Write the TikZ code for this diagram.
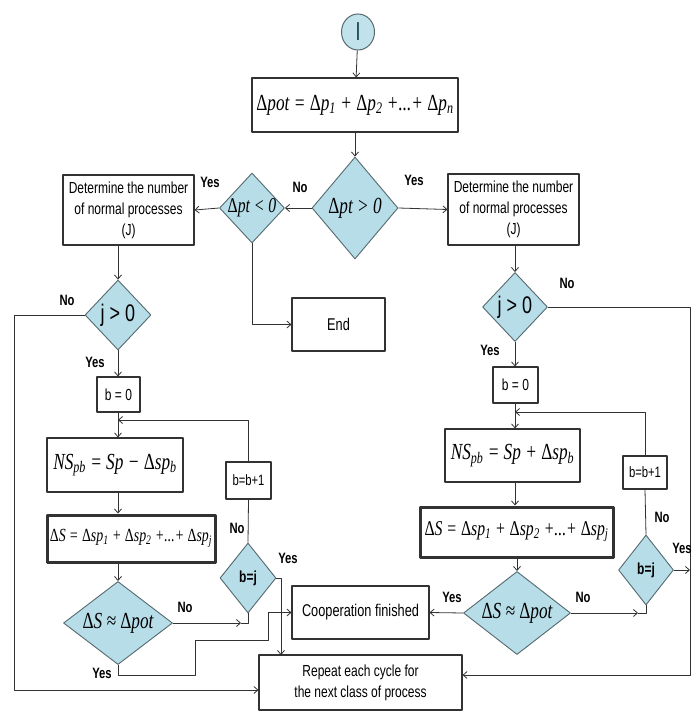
\documentclass[tikz,border=0pt]{standalone}
\usepackage{fontspec}
\setmainfont{Liberation Sans}[FakeStretch=0.75]
\newfontfamily\eqfont{Liberation Serif}[FakeStretch=0.75]
\usetikzlibrary{shapes.geometric,arrows.meta}
\definecolor{decfill}{RGB}{183,221,232}
\definecolor{decline}{RGB}{85,105,110}
\definecolor{flowline}{RGB}{50,50,50}
\definecolor{startmark}{RGB}{31,73,85}
\newcommand{\eqtext}[2]{{\eqfont\itshape\fontsize{#1}{#1}\selectfont #2}}
\newcommand{\dlt}{{\upshape Δ}}
\begin{document}
\begin{tikzpicture}[x=1pt,y=-1pt,line join=round,>={Straight Barb[length=4pt,width=7pt]}]
	\tikzset{box/.style={draw=flowline,line width=1.1pt,rectangle,inner sep=1pt,align=center,font=\fontsize{16}{21}\selectfont},
		sumbox/.style={box,line width=3pt,postaction={draw=flowline,line width=3pt}},
		dec/.style={draw=decline,fill=decfill,line width=0.9pt,diamond,inner sep=-2pt},
		lab/.style={font=\fontsize{15}{18}\selectfont\bfseries,inner sep=0pt},
		flow/.style={draw=flowline,line width=0.8pt}}
	\useasboundingbox (0,0) rectangle (696,711);
	% start and first test
	\node[ellipse,draw=decline,fill=decfill!85!white,line width=1pt,minimum width=33pt,minimum height=36pt,inner sep=0pt,font=\fontsize{26}{26}\selectfont] (start) at (358,32) {\color{startmark}I};
	\node[box,minimum width=206pt,minimum height=54pt] (pot) at (355,105) {\eqtext{23}{\dlt pot = \dlt p\textsubscript{1} + \dlt p\textsubscript{2} +...+ \dlt p\textsubscript{n}}};
	\node[dec,minimum width=86pt,minimum height=102pt] (dpos) at (355,208) {\eqtext{23}{\dlt pt > 0}};
	\node[dec,minimum width=65pt,minimum height=70pt,inner sep=-8pt] (dneg) at (252,208) {\eqtext{21}{\dlt pt < 0}};
	\node[box,minimum width=131pt,minimum height=70pt] (detL) at (128.5,210) {Determine the number\\of normal processes\\(J)};
	\node[box,minimum width=131pt,minimum height=71pt] (detR) at (513.5,209.5) {Determine the number\\of normal processes\\(J)};
	\node[box,minimum width=93pt,minimum height=53pt,font=\fontsize{17}{20}\selectfont] (end) at (338.5,324.5) {End};
	% left branch
	\node[dec,minimum width=66pt,minimum height=70pt,font=\fontsize{24}{26}\selectfont] (jL) at (118,315) {j > 0};
	\node[box,minimum width=43pt,minimum height=35pt] (bzL) at (118.5,394.5) {b = 0};
	\node[box,minimum width=136pt,minimum height=54pt] (nsL) at (115,465) {\eqtext{23}{NS\textsubscript{pb} = Sp − \dlt sp\textsubscript{b}}};
	\node[box,minimum width=45pt,minimum height=37pt,font=\fontsize{15}{18}\selectfont] (incL) at (248.5,480.5) {b=b+1};
	\node[sumbox,minimum width=168pt,minimum height=47pt] (sumL) at (131,538.5) {\eqtext{18.5}{\dlt S = \dlt sp\textsubscript{1} + \dlt sp\textsubscript{2} +...+ \dlt sp\textsubscript{j}}};
	\node[dec,minimum width=109pt,minimum height=71pt] (simL) at (118,623) {\eqtext{23}{\dlt S ≈ \dlt pot}};
	\node[dec,minimum width=56pt,minimum height=70pt,font=\fontsize{16}{18}\selectfont\bfseries] (bjL) at (248,578) {b=j};
	% right branch
	\node[dec,minimum width=65pt,minimum height=69pt,font=\fontsize{24}{26}\selectfont] (jR) at (515,307) {j > 0};
	\node[box,minimum width=45pt,minimum height=36pt] (bzR) at (515.5,385) {b = 0};
	\node[box,minimum width=135pt,minimum height=53pt] (nsR) at (512.5,455.5) {\eqtext{23}{NS\textsubscript{pb} = Sp + \dlt sp\textsubscript{b}}};
	\node[box,minimum width=44pt,minimum height=33pt,font=\fontsize{15}{18}\selectfont] (incR) at (645,472.5) {b=b+1};
	\node[sumbox,minimum width=193pt,minimum height=50pt] (sumR) at (516.5,532) {\eqtext{21}{\dlt S = \dlt sp\textsubscript{1} + \dlt sp\textsubscript{2} +...+ \dlt sp\textsubscript{j}}};
	\node[dec,minimum width=107pt,minimum height=71pt] (simR) at (517,613) {\eqtext{23}{\dlt S ≈ \dlt pot}};
	\node[dec,minimum width=55pt,minimum height=70pt,font=\fontsize{16}{18}\selectfont\bfseries] (bjR) at (646,570) {b=j};
	% common ends
	\node[box,minimum width=137pt,minimum height=53pt,font=\fontsize{17}{20}\selectfont] (coop) at (360.5,612.5) {Cooperation finished};
	\node[box,minimum width=203pt,minimum height=55pt] (rep) at (360.5,682.5) {Repeat each cycle for\\the next class of process};
	\coordinate (cL) at (14,690);
	\coordinate (cR) at (690,675);
	\coordinate (loopL) at (118,420);
	\coordinate (loopR) at (515,412);
	\coordinate (noL) at (241,623);
	\coordinate (noR) at (638,613);
	\coordinate (ybL) at (281,655);
	% connectors
	\draw[flow,->] (start) -- (pot);
	\draw[flow,->] (pot) -- (dpos);
	\draw[flow,->] (dpos.west) -- (dneg.east);
	\draw[flow,->] (dneg.west) -- (detL.east);
	\draw[flow,->] (dpos.east) -- (detR.west);
	\draw[flow,->] (dneg.south) |- (end.west);
	\draw[flow,->] (detL.south -| jL.north) -- (jL.north);
	\draw[flow,->] (detR.south -| jR.north) -- (jR.north);
	\draw[flow,->] (jL.west) -| (cL) -- (cL -| rep.west);
	\draw[flow,->] (jR.east) -| (cR) -- (cR -| rep.east);
	\draw[flow,->] (jL.south) -- (jL.south |- bzL.north);
	\draw[flow,->] (bzL.south -| loopL) -- (loopL |- nsL.north);
	\draw[flow,->] (incL.north) |- (loopL);
	\draw[flow,->] (nsL.south -| loopL) -- (loopL |- sumL.north);
	\draw[flow,->] (sumL.south -| simL.north) -- (simL.north);
	\draw[flow,->] (simL.east) -- (noL);
	\draw[flow] (bjL.south) |- (noL);
	\draw[flow] (bjL.north) -- (incL.south);
	\draw[flow,->] (bjL.east) -| (ybL);
	\draw[flow,->] (simL.south) |- (195,675) |- (268,640) |- (coop.west);
	\draw[flow,->] (jR.south) -- (jR.south |- bzR.north);
	\draw[flow,->] (bzR.south -| loopR) -- (loopR |- nsR.north);
	\draw[flow,->] (incR.north) |- (loopR);
	\draw[flow,->] (nsR.south -| loopR) -- (loopR |- sumR.north);
	\draw[flow,->] (sumR.south -| simR.north) -- (simR.north);
	\draw[flow,->] (simR.west) -- (coop.east);
	\draw[flow,->] (simR.east) -- (noR);
	\draw[flow] (bjR.south) |- (noR);
	\draw[flow] (bjR.north) -- (incR.south);
	\draw[flow,->] (bjR.east) -- (bjR.east -| cR);
	% answers
	\foreach \t/\x/\y [count=\i] in {Yes/210/182,No/300/187,Yes/414/180,No/67/300,Yes/95/362,No/567/283,Yes/490/350,No/185/607,Yes/102/673,No/237/528,Yes/288/558,Yes/452/597,No/583/597,No/662/517,Yes/682/548}
	\node[lab] (ans\i) at (\x,\y) {\t};
\end{tikzpicture}
\end{document}
